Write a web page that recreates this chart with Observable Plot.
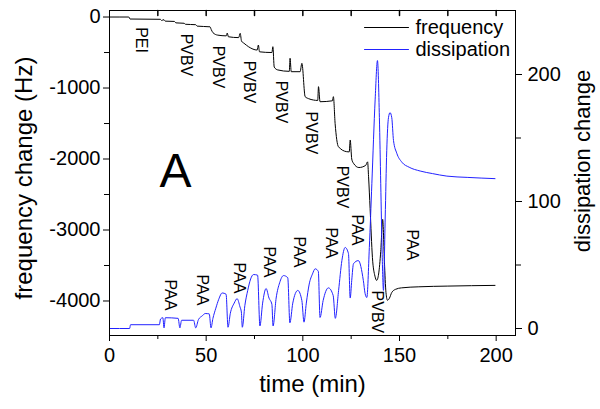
<!DOCTYPE html>
<html><head><meta charset="utf-8">
<script src="https://cdn.jsdelivr.net/npm/d3@7"></script>
<script src="https://cdn.jsdelivr.net/npm/@observablehq/plot@0.6"></script>
<style>
html,body{margin:0;padding:0;background:#fff;}
#chart{width:600px;height:409px;}
</style></head><body><div id="chart"></div>
<script>
// ---- data ----
const freqTime  = [0,10,10.6,26.3,26.9,28.2,28.8,33.6,34.3,38.6,39.3,44.6,45.3,52.0,52.6,53.5,56,60.4,60.9,61.5,66.8,67.6,68.3,69.6,72,76.4,77.0,77.6,84.0,84.5,85.2,87,93.0,93.4,94.0,98.6,99.5,101.2,103,105.5,107.7,108.1,108.9,115.3,115.8,116.7,118.4,122.7,124.0,124.5,125.3,126.2,129,132.5,133.5,134.0,134.8,136.0,137.3,138.2,139.2,140.3,141.3,142.2,143.0,143.8,144.8,146.0,148,151,160,175,199.4];
const freqValue = [0,0,-28,-32,-48,-38,-58,-62,-82,-88,-102,-108,-128,-138,-175,-220,-255,-265,-225,-278,-290,-230,-340,-370,-420,-465,-394,-490,-500,-418,-705,-745,-765,-581,-770,-770,-652,-1122,-1150,-1169,-1175,-981,-1193,-1180,-1122,-1500,-1826,-1897,-1900,-1732,-2000,-2060,-2120,-2090,-2040,-2250,-2700,-3390,-3650,-3710,-3620,-3300,-2850,-3450,-3880,-3990,-3960,-3880,-3835,-3815,-3800,-3790,-3780];

const dissTime  = [0,10.4,10.9,25.8,26.4,27.6,28.2,28.9,35.5,36.4,37.3,43.5,44.6,46,48,49.5,51.6,52.5,53.5,55,56.5,58.3,60.3,61.3,62.5,64.5,66,67.5,68.2,68.7,70,71.5,73,74.5,76.6,77.8,79.2,81,82.5,84,84.6,86.2,88,90,92.2,93.3,94.8,97.4,99.5,100.6,101.8,103.3,105,106.4,108,108.9,110.5,113.2,115.7,116.8,118.5,120.2,121.9,123.6,124.5,125.3,126.2,128.7,131.3,132.2,133.1,134.4,135.7,137.4,138.6,139.6,140.3,141,141.7,142.6,143.4,144.3,145.1,146,146.9,148.6,151.2,155,160.7,167,174.5,185,199.4];
const dissValue = [0,0,3,3,7.5,8.5,0.5,8.5,8,0.5,6.5,6.5,0.5,7,10,11.8,11.5,0.5,8,16,23,28,27,1,12,20,23.5,17,13,1,18,30,39,42.5,42,2,20,31.5,24,19,2,24,36,41.7,40,4.5,20,30,22,5,20,35,43,47,45,8.7,22,32,26,8,30,53.5,63.8,59,24,38,51,53.5,37.8,27.6,24.4,63.8,114,180,211,166,114,61,30,87,140,166,170,166,148,138,131,127,124,122,120,119,118];

const xDomain = [0, 210];
const freqDomain = [-4486, 92];
const dissDomain = [-5.5, 250.4];

const xTicks = [0, 50, 100, 150, 200];
const xMinorTicks = [25, 75, 125, 175];
const xAllTicks = [25, 50, 75, 100, 125, 150, 175, 200];
const freqTicks = [0, -1000, -2000, -3000, -4000];
const freqMinorTicks = [-500, -1500, -2500, -3500];
const dissTicks = [0, 100, 200];
const dissMinorTicks = [50, 150];

const labelText = ["PEI","PVBV","PVBV","PVBV","PVBV","PVBV","PVBV","PVBV","PAA","PAA","PAA","PAA","PAA","PAA","PAA","PAA"];
const labelTime = [16.4,39.7,56.2,72.2,88.8,104.3,120.3,138.4,31.4,48,67.1,82.6,98.1,114.6,128,156.5];
const labelFreq = [-324,-535,-704,-915,-1197,-1633,-2394,-4154,-3914,-3844,-3675,-3450,-3309,-3182,-2999,-3210];

const panelText = ["A"];
const panelTime = [34.1];
const panelFreq = [-2182];

const seriesNames = ["frequency", "dissipation"];
const seriesColors = ["#000000", "#2222ff"];

const xLabel = "time (min)";
const yLeftLabel = "frequency change (Hz)";
const yRightLabel = "dissipation change";

// ---- helpers ----
const toF = d3.scaleLinear().domain(dissDomain).range(freqDomain);
const lineShape = {draw(ctx, l) { ctx.moveTo(0, 0); ctx.lineTo(0, -l); }};
const idx = a => a.map((_, i) => i);

const legendMarks = seriesNames.map((name, i) => [
  Plot.vector([name], {frameAnchor: "top-right", dx: -151, dy: 17 + 22 * i, length: 44, rotate: 90, anchor: "start", shape: lineShape, stroke: seriesColors[i], strokeWidth: 1}),
  Plot.text([name], {frameAnchor: "top-right", dx: -100, dy: 17 + 22 * i, textAnchor: "start", lineAnchor: "middle", fontSize: 20, fill: "black"})
]);

const chart = Plot.plot({
  width: 600, height: 409,
  marginLeft: 109, marginRight: 85, marginTop: 10, marginBottom: 74,
  style: {fontFamily: "'Liberation Sans', Arial, Helvetica, sans-serif", fontSize: "20px", color: "black", background: "white"},
  x: {domain: xDomain},
  y: {domain: freqDomain},
  marks: [
    Plot.line(idx(freqTime), {x: i => freqTime[i], y: i => freqValue[i], stroke: seriesColors[0], strokeWidth: 1, curve: "monotone-x"}),
    Plot.line(idx(dissTime), {x: i => dissTime[i], y: i => toF(dissValue[i]), stroke: seriesColors[1], strokeWidth: 1, curve: "monotone-x"}),
    Plot.frame({stroke: "black", strokeWidth: 1}),
    Plot.axisX(xTicks, {tickSize: 6, tickPadding: 6, tickFormat: d => String(d), label: null}),
    Plot.axisX(xMinorTicks, {tickSize: 4, tickFormat: () => "", label: null}),
    Plot.vector(xAllTicks, {x: d => d, frameAnchor: "top", length: 5, rotate: 180, anchor: "start", shape: lineShape, stroke: "black"}),
    Plot.axisY(freqTicks, {anchor: "left", tickSize: 6, tickPadding: 3, tickFormat: d => String(d), label: null}),
    Plot.axisY(freqMinorTicks, {anchor: "left", tickSize: 5, tickFormat: () => "", label: null}),
    Plot.axisY(dissTicks.map(d => toF(d)), {anchor: "right", tickSize: 6, tickPadding: 6, tickFormat: v => String(Math.round(toF.invert(v))), label: null}),
    Plot.axisY(dissMinorTicks.map(d => toF(d)), {anchor: "right", tickSize: 5, tickFormat: () => "", label: null}),
    Plot.text([xLabel], {frameAnchor: "bottom", dy: 49, fontSize: 24, textAnchor: "middle", lineAnchor: "middle", fill: "black"}),
    Plot.text([yLeftLabel], {frameAnchor: "left", rotate: -90, dx: -85, dy: 5, fontSize: 24, textAnchor: "middle", lineAnchor: "middle", fill: "black"}),
    Plot.text([yRightLabel], {frameAnchor: "right", rotate: -90, dx: 67, dy: -12, fontSize: 22, textAnchor: "middle", lineAnchor: "middle", fill: "black"}),
    Plot.text(idx(labelText), {x: i => labelTime[i], y: i => labelFreq[i], text: i => labelText[i], rotate: 90, fontSize: 16, fill: "black"}),
    Plot.text(idx(panelText), {x: i => panelTime[i], y: i => panelFreq[i], text: i => panelText[i], fontSize: 48, fill: "black"}),
    legendMarks
  ]
});
document.getElementById("chart").appendChild(chart);
</script>
</body></html>
